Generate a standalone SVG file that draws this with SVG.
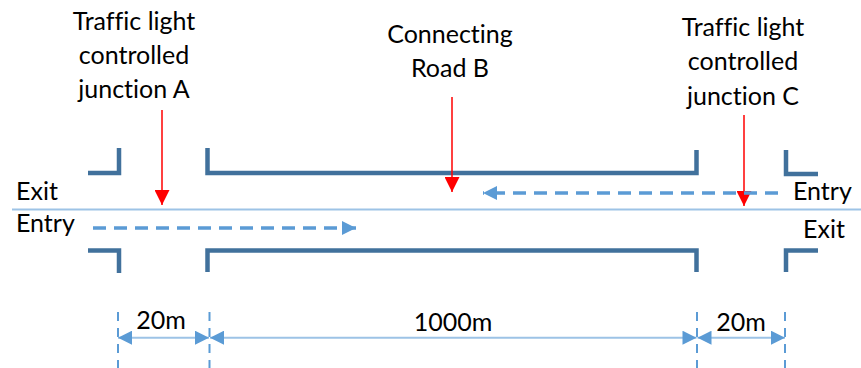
<svg xmlns="http://www.w3.org/2000/svg" width="861" height="368" viewBox="0 0 861 368">
<defs>
<style>
.t{font-family:Lato,"Liberation Sans",Arial,sans-serif;font-size:25px;fill:#000;font-variant-ligatures:none}
.tc{text-anchor:middle}
.road{fill:none;stroke:#41719C;stroke-width:4.5}
.flow{fill:none;stroke:#5B9BD5;stroke-width:3.5;stroke-dasharray:13,8}
.red{stroke:#FF0000;stroke-width:1.5}
.dim{stroke:#9DC3E6;stroke-width:2}
.ext{stroke:#5B9BD5;stroke-width:2;stroke-dasharray:9,7}
</style>
<marker id="ah" viewBox="0 0 10 10" refX="10" refY="5" markerWidth="15" markerHeight="14" markerUnits="userSpaceOnUse" orient="auto-start-reverse">
<path d="M0,0L10,5L0,10z" fill="#5B9BD5"/>
</marker>
<marker id="fh" viewBox="0 0 10 10" refX="10" refY="5" markerWidth="16" markerHeight="14" markerUnits="userSpaceOnUse" orient="auto">
<path d="M0,0L10,5L0,10z" fill="#5B9BD5"/>
</marker>
<marker id="rh" viewBox="0 0 10 10" refX="10" refY="5" markerWidth="15" markerHeight="15" markerUnits="userSpaceOnUse" orient="auto">
<path d="M0,0L10,5L0,10z" fill="#FF0000"/>
</marker>
</defs>
<rect width="861" height="368" fill="#fff"/>

<g id="road">
<line x1="12" y1="209.5" x2="861" y2="209.5" stroke="#9DC3E6" stroke-width="2"/>
<path class="road" d="M88,173H119V148"/>
<path class="road" d="M207.5,148V173H696.5V150"/>
<path class="road" d="M786,150V174H818"/>
<path class="road" d="M88,250.5H119V273"/>
<path class="road" d="M207.5,272V250.5H696.5V272"/>
<path class="road" d="M786,272V250.5H818"/>
</g>

<g id="labelA">
<text class="t tc" x="134" y="30">Traffic light</text>
<text class="t tc" x="134" y="64">controlled</text>
<text class="t tc" x="134" y="98">junction A</text>
</g>
<g id="labelB">
<text class="t tc" x="450" y="43">Connecting</text>
<text class="t tc" x="450" y="77">Road B</text>
</g>
<g id="labelC">
<text class="t tc" x="743" y="36">Traffic light</text>
<text class="t tc" x="743" y="70">controlled</text>
<text class="t tc" x="743" y="105">junction C</text>
</g>
<g id="lanes">
<text class="t" x="16" y="200">Exit</text>
<text class="t" x="16" y="232">Entry</text>
<text class="t" x="793" y="200">Entry</text>
<text class="t" x="803" y="238">Exit</text>
</g>

<g id="connectors">
<line class="red" x1="162" y1="110" x2="162" y2="205" marker-end="url(#rh)"/>
<line class="red" x1="452" y1="97" x2="452" y2="192" marker-end="url(#rh)"/>
<line class="red" x1="744" y1="115" x2="744" y2="206" marker-end="url(#rh)"/>
<line class="flow" x1="93" y1="228" x2="356" y2="228" marker-end="url(#fh)"/>
<line class="flow" x1="778" y1="193" x2="483" y2="193" marker-end="url(#fh)"/>
</g>

<g id="dimensions">
<line class="ext" x1="118" y1="312" x2="118" y2="368"/>
<line class="ext" x1="209.5" y1="312" x2="209.5" y2="368"/>
<line class="ext" x1="697" y1="312" x2="697" y2="368"/>
<line class="ext" x1="785" y1="312" x2="785" y2="368"/>
<line class="dim" x1="118" y1="337.7" x2="209" y2="337.7" marker-start="url(#ah)" marker-end="url(#ah)"/>
<line class="dim" x1="210" y1="337.7" x2="696.5" y2="337.7" marker-start="url(#ah)" marker-end="url(#ah)"/>
<line class="dim" x1="697.5" y1="337.7" x2="785" y2="337.7" marker-start="url(#ah)" marker-end="url(#ah)"/>
<text class="t tc" x="161" y="329">20m</text>
<text class="t tc" x="453" y="331">1000m</text>
<text class="t tc" x="741" y="331">20m</text>
</g>
</svg>
